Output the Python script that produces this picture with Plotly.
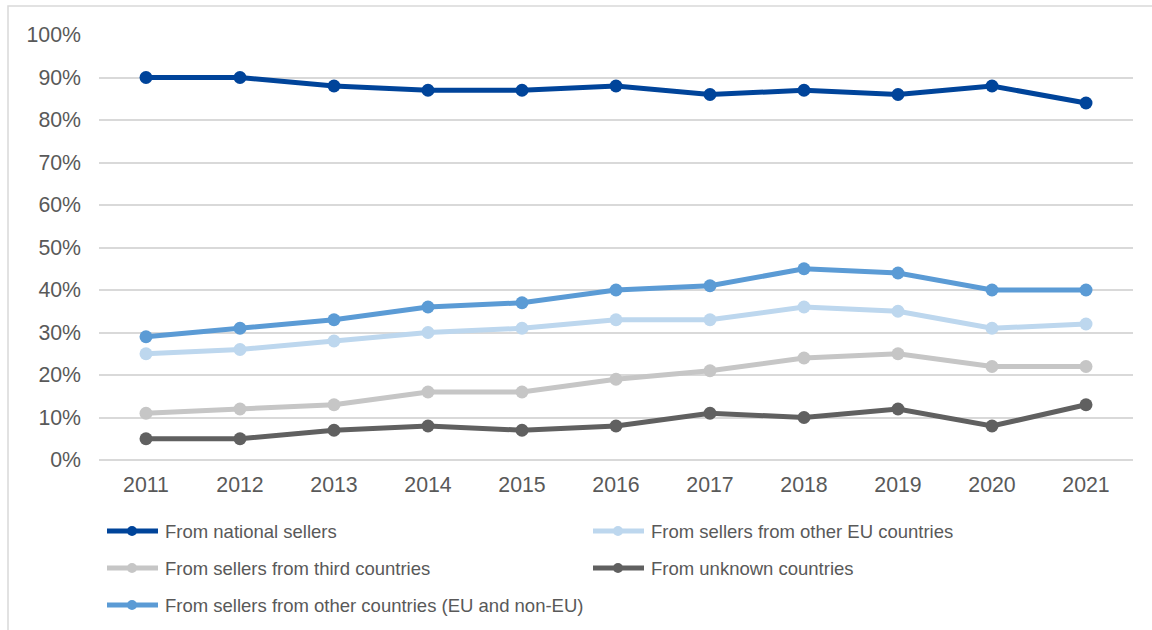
import plotly.graph_objects as go

years = ["2011", "2012", "2013", "2014", "2015", "2016", "2017", "2018", "2019", "2020", "2021"]

national = [90, 90, 88, 87, 87, 88, 86, 87, 86, 88, 84]
other_eu = [25, 26, 28, 30, 31, 33, 33, 36, 35, 31, 32]
third = [11, 12, 13, 16, 16, 19, 21, 24, 25, 22, 22]
unknown = [5, 5, 7, 8, 7, 8, 11, 10, 12, 8, 13]
other_all = [29, 31, 33, 36, 37, 40, 41, 45, 44, 40, 40]

series_names = [
    "From national sellers",
    "From sellers from other EU countries",
    "From sellers from third countries",
    "From unknown countries",
    "From sellers from other countries (EU and non-EU)",
]
series_values = [national, other_eu, third, unknown, other_all]
series_colors = ["#00449A", "#BDD7EE", "#C6C6C6", "#606060", "#5B9BD5"]

# drawing order: back to front
draw_order = [2, 3, 1, 4, 0]

W, H = 1152, 630
L, R, T, B = 99, 19, 35, 170
pw, ph = W - L - R, H - T - B

text_color = "#595959"
font_family = "Liberation Sans, Arial, sans-serif"
tick_size = 21.3

fig = go.Figure()
for i in draw_order:
    fig.add_trace(go.Scatter(
        x=years,
        y=[v / 100 for v in series_values[i]],
        name=series_names[i],
        mode="lines+markers",
        line=dict(color=series_colors[i], width=5),
        marker=dict(color=series_colors[i], size=13),
        cliponaxis=False,
        showlegend=False,
    ))

def px_x(x):
    return (x - L) / pw

def px_y(y):
    return (H - B - y) / ph

shapes = []
annotations = []
# hand-laid legend: two columns, three rows
col_x = [105, 591]
row_y = [531, 568, 605]
for i, name in enumerate(series_names):
    cx = col_x[i % 2]
    cy = row_y[i // 2]
    c = series_colors[i]
    shapes.append(dict(type="line", xref="paper", yref="paper",
                       x0=px_x(cx + 2), x1=px_x(cx + 53), y0=px_y(cy), y1=px_y(cy),
                       line=dict(color=c, width=5)))
    shapes.append(dict(type="circle", xref="paper", yref="paper",
                       x0=px_x(cx + 22), x1=px_x(cx + 32),
                       y0=px_y(cy + 5), y1=px_y(cy - 5),
                       fillcolor=c, line=dict(color=c, width=0)))
    annotations.append(dict(text=name, xref="paper", yref="paper",
                            x=px_x(cx + 58), y=px_y(cy), xanchor="left", yanchor="middle",
                            showarrow=False,
                            font=dict(size=18.5, color=text_color, family=font_family)))

# outer frame
shapes.append(dict(type="rect", xref="paper", yref="paper",
                   x0=px_x(8), x1=px_x(W + 10), y0=px_y(6), y1=px_y(H + 10),
                   line=dict(color="#D9D9D9", width=1.5), fillcolor="rgba(0,0,0,0)", layer="below"))

fig.update_layout(
    width=W, height=H,
    margin=dict(l=L, r=R, t=T, b=B),
    paper_bgcolor="white",
    plot_bgcolor="white",
    font=dict(family=font_family, color=text_color, size=tick_size),
    shapes=shapes,
    annotations=annotations,
    showlegend=False,
)
fig.update_xaxes(
    type="category",
    range=[-0.5, 10.5],
    showgrid=False,
    showline=False,
    zeroline=False,
    ticks="",
    ticklabelstandoff=10,
    tickfont=dict(size=tick_size, color=text_color),
)
fig.update_yaxes(
    range=[0, 1.0],
    tickvals=[i / 10 for i in range(11)],
    tickformat=".0%",
    showgrid=True,
    gridcolor="#D9D9D9",
    gridwidth=1.5,
    zeroline=True,
    zerolinecolor="#D9D9D9",
    zerolinewidth=1.5,
    showline=False,
    ticks="",
    ticklabelstandoff=17,
    tickfont=dict(size=tick_size, color=text_color),
)

fig.write_html("out.html")
